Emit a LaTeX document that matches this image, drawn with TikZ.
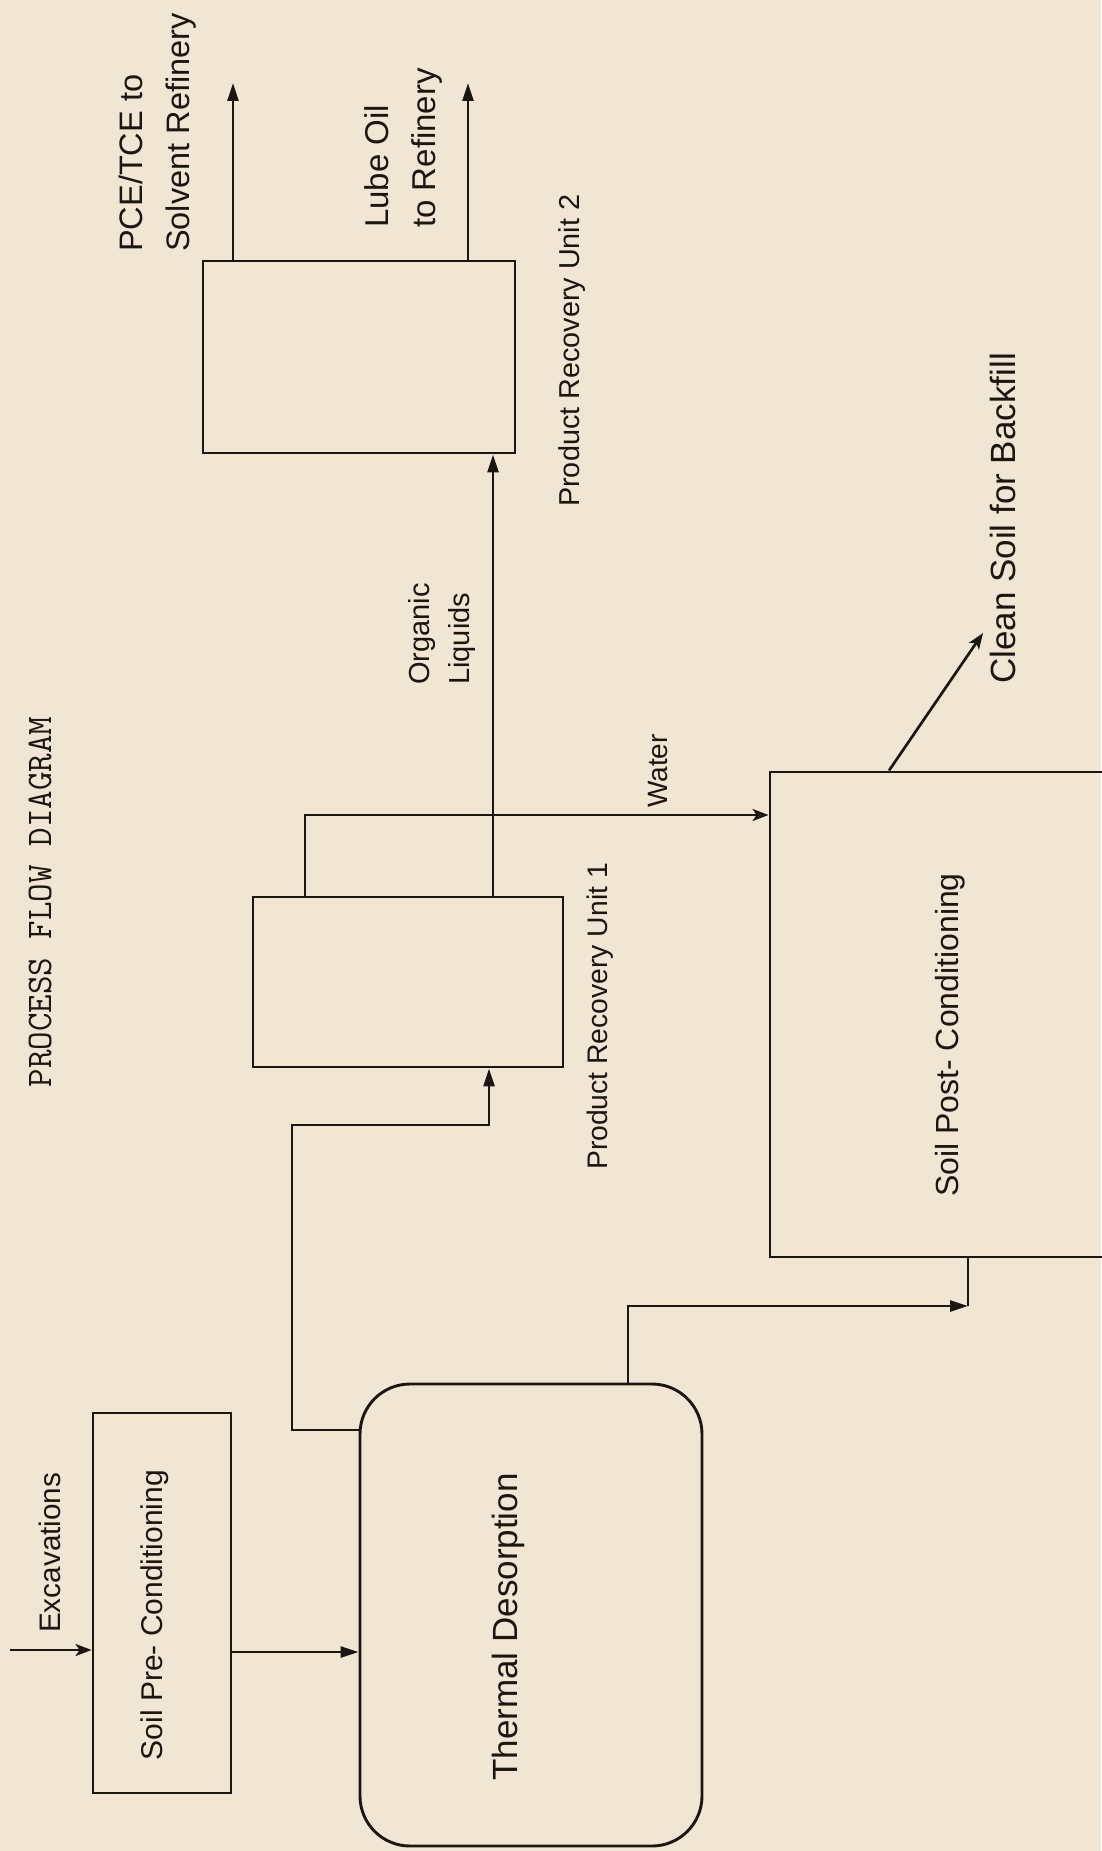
\documentclass[tikz,border=0pt]{standalone}
\usepackage{fontspec}
\setmainfont{Liberation Sans}
\usetikzlibrary{arrows.meta}
\definecolor{paper}{RGB}{241,230,211}
\definecolor{ink}{RGB}{28,22,18}
\newcommand\fsz[2]{\fontsize{#1}{#2}\selectfont}
\begin{document}
\begin{tikzpicture}[x=1pt,y=-1pt,
  unit/.style={draw=ink, line width=2.9pt, rectangle, inner sep=0pt},
  lbl/.style={rotate=90, inner sep=0pt, text=ink},
  flow/.style={draw=ink, line width=2.7pt},
  solid tip/.style={-{Triangle[length=18pt,width=11pt]}},
  open tip/.style={-{Stealth[open,length=16pt,width=12pt,inset=4pt]}}]

% sheet
\fill[paper] (0,0) rectangle (1101,1851);
\useasboundingbox (0,0) rectangle (1101,1851);

% process units
\node[unit, minimum width=138pt, minimum height=380pt] (pre) at (162,1603) {};
\node[unit, rounded corners=50pt, minimum width=342pt, minimum height=462pt] (td) at (531,1615) {};
\node[unit, minimum width=310pt, minimum height=170pt] (pr1) at (408,982) {};
\node[unit, minimum width=312pt, minimum height=192pt] (pr2) at (359,357) {};
\node[unit, minimum width=360pt, minimum height=485pt] (post) at (950,1014.5) {};

% unit names and stream labels
\node[lbl, font=\fsz{30}{36}] (pretxt) at (155,1615) {Soil Pre- Conditioning};
\node[lbl, font=\fsz{35}{42}] (tdtxt) at (508,1627) {Thermal Desorption};
\node[lbl, font=\fsz{32}{38}] (posttxt) at (950,1035) {Soil Post- Conditioning};
\node[lbl, anchor=west, font=\fsz{28.3}{34}] (pr1txt) at (600,1170) {Product Recovery Unit 1};
\node[lbl, anchor=west, font=\fsz{28.8}{34}] (pr2txt) at (572,507) {Product Recovery Unit 2};
\node[lbl, anchor=west, align=left, font=\fsz{29}{40}] (orgtxt) at (442,685) {Organic\\Liquids};
\node[lbl, anchor=west, align=left, font=\fsz{33}{47}] (lubetxt) at (403,228) {Lube Oil\\to Refinery};
\node[lbl, anchor=west, align=left, font=\fsz{32.5}{47}] (pcetxt) at (158,252) {PCE/TCE to\\Solvent Refinery};
\node[lbl, anchor=west, font=\fsz{28}{34}] (watertxt) at (658,808) {Water};
\node[lbl, anchor=west, font=\fsz{35}{42}] (cleantxt) at (1003,684) {Clean Soil for Backfill};
\node[lbl, anchor=west, font=\fsz{29.7}{36}] (exctxt) at (50,1633) {Excavations};
\node[lbl, font=\ttfamily\fsz{36}{42}] (title) at (40,902) {PROCESS FLOW DIAGRAM};

% routing points
\coordinate (excin) at (10,1650);
\coordinate (feed) at (0,1652);
\coordinate (vapour) at (0,1430);
\coordinate (riser) at (292,1125);
\coordinate (pr1in) at (489,0);
\coordinate (water) at (305,815);
\coordinate (org) at (493,0);
\coordinate (solvent) at (233,83);
\coordinate (lube) at (468,83);
\coordinate (postout) at (889,0);
\coordinate (backfill) at (983,633);
\coordinate (soilup) at (628,0);
\coordinate (soilbend) at (968,1306);

% streams
\draw[flow, open tip] (excin) -- (excin -| pre.west);
\draw[flow, solid tip] (feed -| pre.east) -- (feed -| td.west);
\draw[flow, solid tip] (vapour -| td.west) -| (riser) -| (pr1in |- pr1.south);
\draw[flow, open tip] (water |- pr1.north) -- (water) -- (water -| post.west);
\draw[flow, solid tip] (org |- pr1.north) -- (org |- pr2.south);
\draw[flow, solid tip] (solvent |- pr2.north) -- (solvent);
\draw[flow, solid tip] (lube |- pr2.north) -- (lube);
\draw[flow, open tip] (postout |- post.north) -- (backfill);
\draw[flow, solid tip] (soilup |- td.north) |- (soilbend);
\draw[flow] (soilbend) -- (soilbend |- post.south);
\end{tikzpicture}
\end{document}
